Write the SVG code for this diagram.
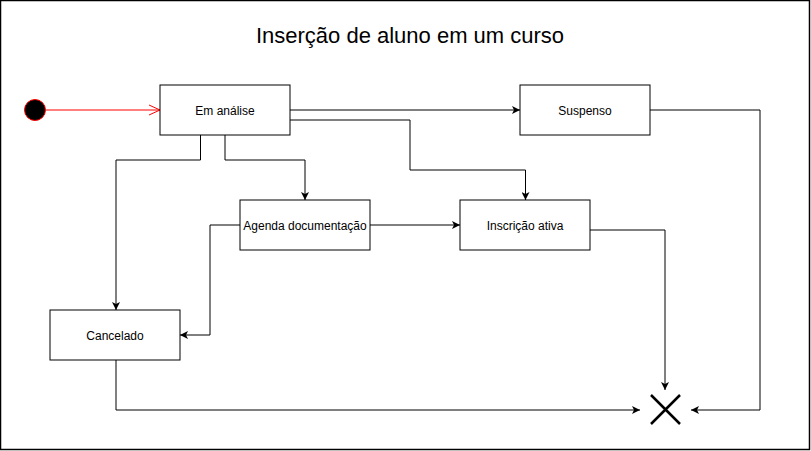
<svg xmlns="http://www.w3.org/2000/svg" width="811" height="451" viewBox="0 0 811 451">
<style>
.node rect{fill:#fff;stroke:#000;stroke-width:1}
.node text{font-family:"Liberation Sans",Arial,sans-serif;font-size:12px;fill:#000;text-anchor:middle}
.edge{fill:none;stroke:#000;stroke-width:1}
</style>
<defs>
<marker id="arr" viewBox="0 0 10 10" refX="10" refY="5" markerWidth="8" markerHeight="8" markerUnits="userSpaceOnUse" orient="auto">
<path d="M0,0 L10,5 L0,10 L2.5,5 Z" fill="#000"/>
</marker>
<marker id="open" viewBox="0 0 12 12" refX="11" refY="6" markerWidth="12" markerHeight="12" markerUnits="userSpaceOnUse" orient="auto">
<path d="M0,1 L11,6 L0,11" fill="none" stroke="#f00" stroke-width="1"/>
</marker>
</defs>
<rect x="0.5" y="0.5" width="809" height="449" fill="#fff" stroke="#000" stroke-width="1.5"/>
<text x="410" y="43" font-family="'Liberation Sans',Arial,sans-serif" font-size="22" text-anchor="middle">Inserção de aluno em um curso</text>
<g id="edges">
<path d="M46,110 H160" fill="none" stroke="#f00" stroke-width="1" marker-end="url(#open)"/>
<path class="edge" d="M290,110 H520" marker-end="url(#arr)"/>
<path class="edge" d="M290,120 H410 V170 H525.5 V200" marker-end="url(#arr)"/>
<path class="edge" d="M200.5,135 V160 H116 V310" marker-end="url(#arr)"/>
<path class="edge" d="M225,135 V160 H305 V200" marker-end="url(#arr)"/>
<path class="edge" d="M370,225 H460" marker-end="url(#arr)"/>
<path class="edge" d="M240,225 H210 V335 H180" marker-end="url(#arr)"/>
<path class="edge" d="M590,230 H665 V390" marker-end="url(#arr)"/>
<path class="edge" d="M650,110 H760 V410 H691" marker-end="url(#arr)"/>
<path class="edge" d="M116,360 V410 H640" marker-end="url(#arr)"/>
</g>
<g id="start"><circle cx="35" cy="110" r="10.5" fill="#000" stroke="#f00" stroke-width="1"/></g>
<g id="em-analise" class="node"><rect x="160" y="85" width="130" height="50"/><text x="225" y="115">Em análise</text></g>
<g id="suspenso" class="node"><rect x="520" y="85" width="130" height="50"/><text x="585" y="115">Suspenso</text></g>
<g id="agenda" class="node"><rect x="240" y="200" width="130" height="50"/><text x="305" y="230">Agenda documentação</text></g>
<g id="inscricao" class="node"><rect x="460" y="200" width="130" height="50"/><text x="525" y="230">Inscrição ativa</text></g>
<g id="cancelado" class="node"><rect x="50" y="310" width="130" height="50"/><text x="115" y="340">Cancelado</text></g>
<g id="end"><path d="M651,395 L680,424 M680,395 L651,424" stroke="#000" stroke-width="2.5" fill="none"/></g>
</svg>
